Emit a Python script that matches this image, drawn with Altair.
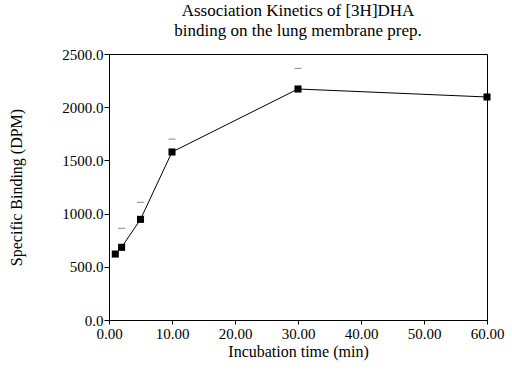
import altair as alt
import pandas as pd

time_min = [1, 2, 5, 10, 30, 60]
binding = [620, 683, 946, 1579, 2171, 2096]
cap_time = [2, 5, 10, 30]
cap_value = [862, 1106, 1700, 2365]

df = pd.DataFrame({"t": time_min, "b": binding})
dfc = pd.DataFrame({"t": cap_time, "b": cap_value})

FONT = "Liberation Serif"

x = alt.X("t:Q", scale=alt.Scale(domain=[0, 60], nice=False),
          axis=alt.Axis(title="Incubation time (min)", values=[0, 10, 20, 30, 40, 50, 60],
                        format=".2f", grid=False, tickSize=4, labelPadding=2, titlePadding=2,
                        labelFlush=False))
y = alt.Y("b:Q", scale=alt.Scale(domain=[0, 2500], nice=False),
          axis=alt.Axis(title="Specific Binding (DPM)", values=[0, 500, 1000, 1500, 2000, 2500],
                        format=".1f", grid=False, tickSize=5, labelPadding=1, titlePadding=37,
                        labelFlush=False))

line = alt.Chart(df).mark_line(color="black", strokeWidth=1).encode(x=x, y=y)
pts = alt.Chart(df).mark_square(color="black", size=50, opacity=1, filled=True).encode(x=x, y=y)
caps = alt.Chart(dfc).mark_tick(orient="horizontal", color="#555555", size=7, thickness=1).encode(x=x, y=y)

chart = alt.layer(line, pts, caps).properties(
    width=378, height=266,
    title=alt.TitleParams(
        text=["Association Kinetics of [3H]DHA", "binding on the lung membrane prep."],
        font=FONT, fontSize=17, fontWeight="normal", color="black",
        anchor="middle", offset=7, lineHeight=20,
    ),
    autosize=alt.AutoSizeParams(type="none"),
    padding={"left": 109, "top": 54, "right": 25, "bottom": 50},
    background="white",
).configure_view(stroke="black", strokeWidth=1).configure_axis(
    domainColor="black", tickColor="black", labelColor="black", titleColor="black",
    labelFont=FONT, titleFont=FONT, labelFontSize=15, titleFontSize=16,
    titleFontWeight="normal",
)

chart.save("out.html", embed_options={"renderer": "svg", "actions": False})
